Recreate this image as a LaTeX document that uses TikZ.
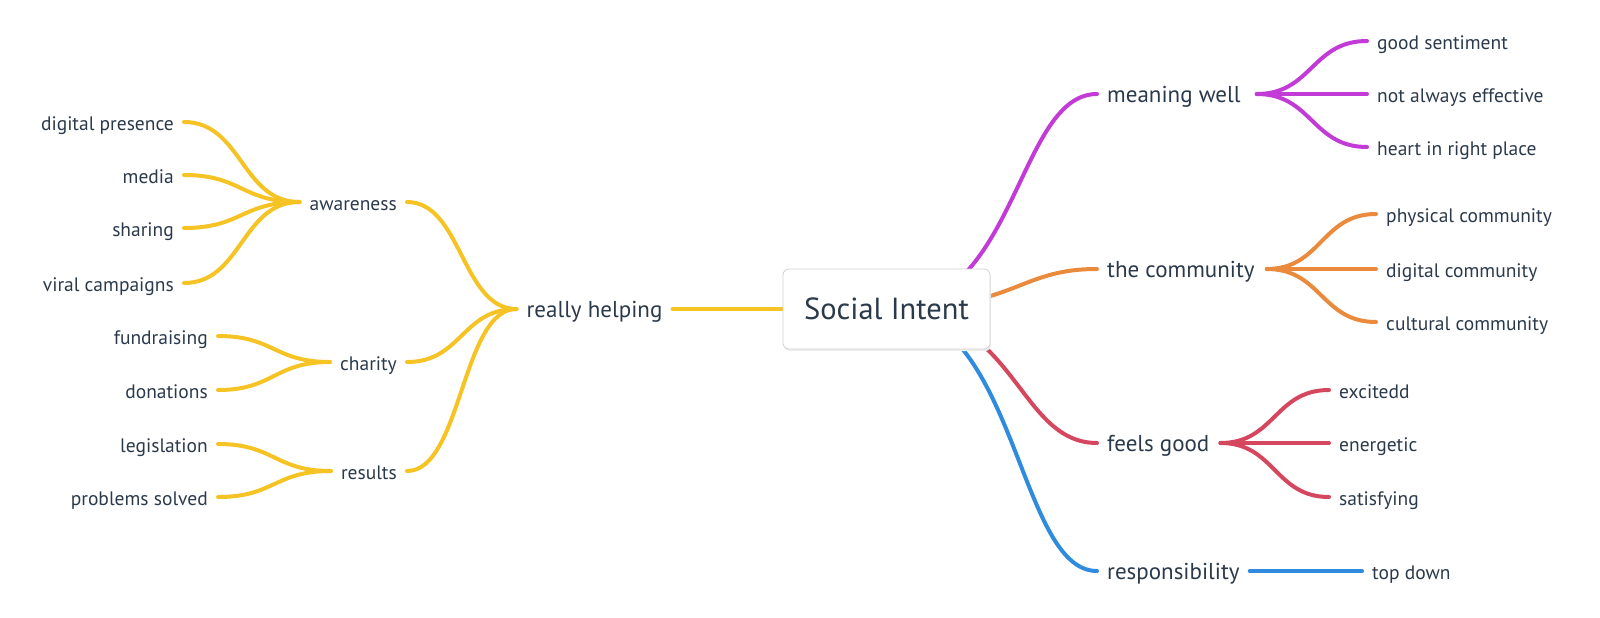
\documentclass[tikz,border=0pt]{standalone}
\usepackage{fontspec}
\setmainfont{PT Sans}
\usetikzlibrary{backgrounds,calc}
\definecolor{txt}{HTML}{2B3A4B}
\definecolor{cyel}{HTML}{F6C325}
\definecolor{cpur}{HTML}{C23BD6}
\definecolor{cora}{HTML}{EA8A3C}
\definecolor{cred}{HTML}{D5475E}
\definecolor{cblu}{HTML}{2E8BDE}
\newcommand\mmlink[4][0.5]{\draw[#2] let \p1=(#3), \p2=(#4) in (\p1) .. controls ({\x1+#1*(\x2-\x1)},\y1) and ({\x1+#1*(\x2-\x1)},\y2) .. (\p2);}
\tikzset{
  lbl/.style={inner sep=0pt, text=txt},
  lone/.style={lbl, font=\fontsize{23}{26}\selectfont, text height=20pt, text depth=2.3pt},
  leaf/.style={lbl, font=\fontsize{19.5}{22}\selectfont, text height=18pt, text depth=1.95pt},
  conn/.style={line width=4pt, line cap=round},
  rootbox/.style={draw=black!18, line width=0.8pt, fill=white, rounded corners=6pt,
    minimum width=207pt, minimum height=80pt, inner sep=0pt, text=txt,
    font=\fontsize{30.5}{34}\selectfont}
}
\begin{document}
\begin{tikzpicture}[x=1pt,y=-1pt]
\useasboundingbox (0,0) rectangle (1600,618);
% root
\fill[black!7, rounded corners=6pt] (784,271) rectangle (991,351);
\node[rootbox] (root) at (886.5,309) {Social Intent};
% right first level
\node[lone, anchor=west] (mw) at (1107,94) {meaning well};
\node[lone, anchor=west] (tc) at (1107,269) {the community};
\node[lone, anchor=west] (fg) at (1107,443) {feels good};
\node[lone, anchor=west] (rs) at (1107,571) {responsibility};
% right leaves
\node[leaf, anchor=west] (gs) at (1377,41) {good sentiment};
\node[leaf, anchor=west] (nae) at (1377,94) {not always effective};
\node[leaf, anchor=west] (hrp) at (1377,147) {heart in right place};
\node[leaf, anchor=west] (pc) at (1386,214) {physical community};
\node[leaf, anchor=west] (dc) at (1386,269) {digital community};
\node[leaf, anchor=west] (cc) at (1386,322) {cultural community};
\node[leaf, anchor=west] (ex) at (1339,390) {excitedd};
\node[leaf, anchor=west] (en) at (1339,443) {energetic};
\node[leaf, anchor=west] (sa) at (1339,497) {satisfying};
\node[leaf, anchor=west] (td) at (1372,571) {top down};
% left
\node[lone] (rh) at (594.5,309) {really helping};
\node[leaf, anchor=east] (aw) at (397,202) {awareness};
\node[leaf, anchor=east] (ch) at (397,362) {charity};
\node[leaf, anchor=east] (re) at (397,471) {results};
\node[leaf, anchor=east] (dp) at (174,122) {digital presence};
\node[leaf, anchor=east] (me) at (174,175) {media};
\node[leaf, anchor=east] (sh) at (174,228) {sharing};
\node[leaf, anchor=east] (vc) at (174,283) {viral campaigns};
\node[leaf, anchor=east] (fu) at (208,336) {fundraising};
\node[leaf, anchor=east] (do) at (208,390) {donations};
\node[leaf, anchor=east] (le) at (208,444) {legislation};
\node[leaf, anchor=east] (ps) at (208,497) {problems solved};
\begin{pgfonlayer}{background}
% root branches
\mmlink[0.62]{conn,cpur}{root.center}{[xshift=-10pt]mw.west}
\mmlink[0.62]{conn,cora}{root.center}{[xshift=-10pt]tc.west}
\mmlink[0.62]{conn,cred}{root.center}{[xshift=-10pt]fg.west}
\mmlink[0.62]{conn,cblu}{root.center}{[xshift=-10pt]rs.west}
\draw[conn,cyel] (root.center) -- ([xshift=10pt]rh.east);
% right leaves
\mmlink{conn,cpur}{[xshift=16pt]mw.east}{[xshift=-10pt]gs.west}
\mmlink{conn,cpur}{[xshift=16pt]mw.east}{[xshift=-10pt]nae.west}
\mmlink{conn,cpur}{[xshift=16pt]mw.east}{[xshift=-10pt]hrp.west}
\mmlink{conn,cora}{[xshift=12pt]tc.east}{[xshift=-10pt]pc.west}
\mmlink{conn,cora}{[xshift=12pt]tc.east}{[xshift=-10pt]dc.west}
\mmlink{conn,cora}{[xshift=12pt]tc.east}{[xshift=-10pt]cc.west}
\mmlink{conn,cred}{[xshift=11pt]fg.east}{[xshift=-10pt]ex.west}
\mmlink{conn,cred}{[xshift=11pt]fg.east}{[xshift=-10pt]en.west}
\mmlink{conn,cred}{[xshift=11pt]fg.east}{[xshift=-10pt]sa.west}
\draw[conn,cblu] ([xshift=10pt]rs.east) -- ([xshift=-10pt]td.west);
% left
\mmlink{conn,cyel}{[xshift=10pt]aw.east}{[xshift=-10pt]rh.west}
\mmlink{conn,cyel}{[xshift=10pt]ch.east}{[xshift=-10pt]rh.west}
\mmlink{conn,cyel}{[xshift=10pt]re.east}{[xshift=-10pt]rh.west}
\mmlink{conn,cyel}{[xshift=10pt]dp.east}{[xshift=-10pt]aw.west}
\mmlink{conn,cyel}{[xshift=10pt]me.east}{[xshift=-10pt]aw.west}
\mmlink{conn,cyel}{[xshift=10pt]sh.east}{[xshift=-10pt]aw.west}
\mmlink{conn,cyel}{[xshift=10pt]vc.east}{[xshift=-10pt]aw.west}
\mmlink{conn,cyel}{[xshift=10pt]fu.east}{[xshift=-10pt]ch.west}
\mmlink{conn,cyel}{[xshift=10pt]do.east}{[xshift=-10pt]ch.west}
\mmlink{conn,cyel}{[xshift=10pt]le.east}{[xshift=-10pt]re.west}
\mmlink{conn,cyel}{[xshift=10pt]ps.east}{[xshift=-10pt]re.west}
\end{pgfonlayer}
\end{tikzpicture}
\end{document}
